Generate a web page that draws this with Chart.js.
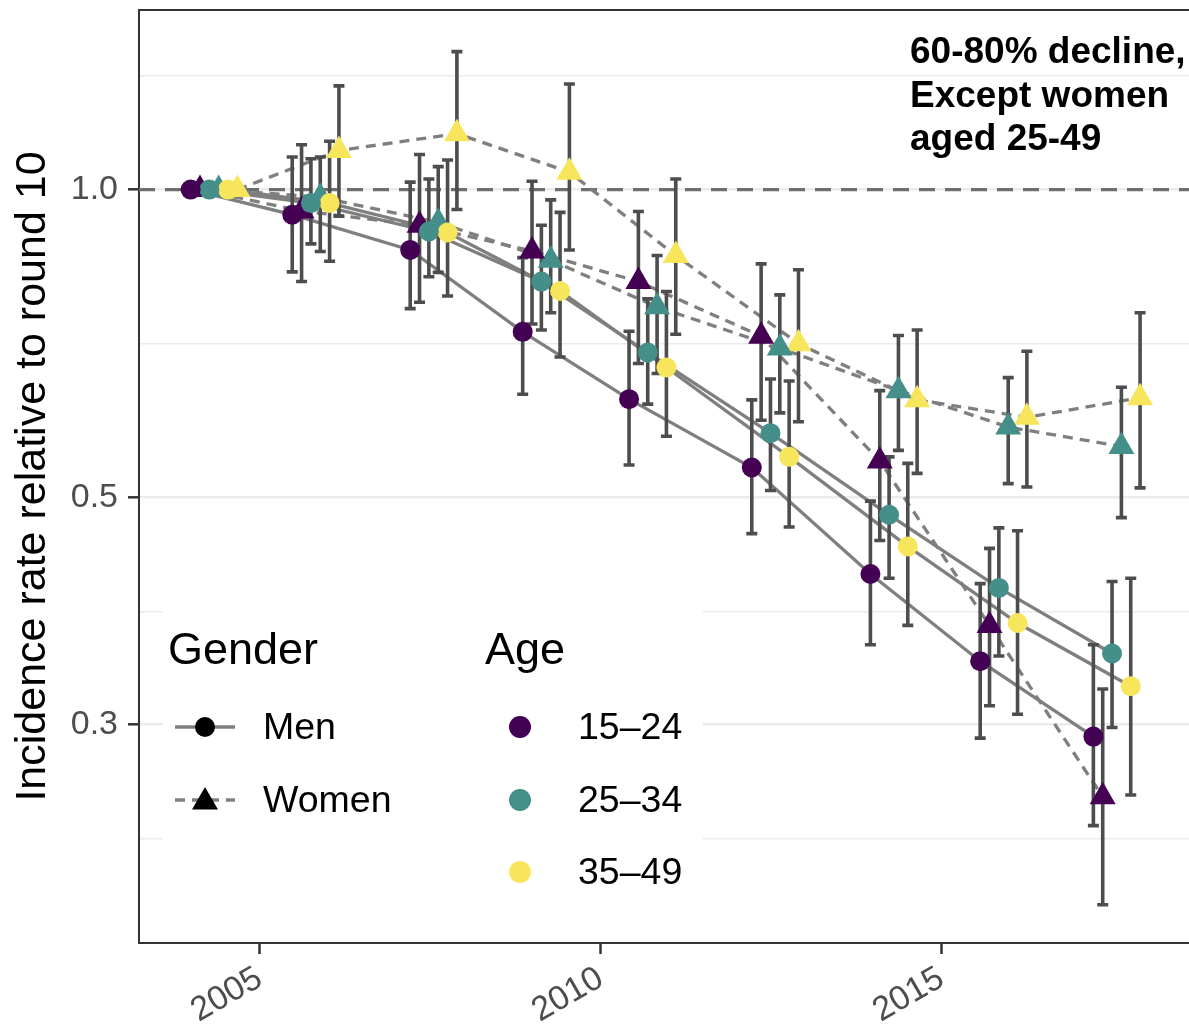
<!DOCTYPE html>
<html>
<head>
<meta charset="utf-8">
<script src="https://cdn.jsdelivr.net/npm/chart.js@4.4.0/dist/chart.umd.min.js"></script>
<style>
  html, body { margin: 0; padding: 0; background: #fff; }
  #wrap { width: 1189px; height: 1031px; }
</style>
</head>
<body>
<div id="wrap"><canvas id="incidenceChart" width="1189" height="1031"></canvas></div>
<script>
// survey rounds 10..18, mid-point of each round in years
const rounds = ['R10', 'R11', 'R12', 'R13', 'R14', 'R15', 'R16', 'R17', 'R18'];
const roundYears = [2004.33, 2005.82, 2007.55, 2009.20, 2010.76, 2012.56, 2014.30, 2015.91, 2017.57];

const ageGroups = ['15–24', '25–34', '35–49'];
const genders = ['Men', 'Women'];

// incidence rate relative to round 10, with 95% CI
const men15 = [1, 0.945, 0.873, 0.726, 0.624, 0.535, 0.421, 0.346, 0.292];
const men15Lo = [null, 0.831, 0.765, 0.631, 0.538, 0.461, 0.359, 0.291, 0.239];
const men15Hi = [null, 1.076, 1.017, 0.858, 0.727, 0.623, 0.496, 0.412, 0.359];

const women15 = [1, 0.953, 0.923, 0.871, 0.813, 0.719, 0.543, 0.375, 0.255];
const women15Lo = [null, 0.813, 0.776, 0.739, 0.676, 0.595, 0.454, 0.313, 0.200];
const women15Hi = [null, 1.106, 1.082, 1.019, 0.952, 0.846, 0.636, 0.446, 0.325];

const men25 = [1, 0.970, 0.910, 0.813, 0.693, 0.578, 0.481, 0.408, 0.352];
const men25Lo = [null, 0.885, 0.822, 0.729, 0.617, 0.508, 0.417, 0.350, 0.298];
const men25Hi = [null, 1.072, 1.024, 0.923, 0.782, 0.653, 0.548, 0.467, 0.414];

const women25 = [1, 0.983, 0.929, 0.853, 0.768, 0.700, 0.636, 0.586, 0.561];
const women25Lo = [null, 0.870, 0.830, 0.758, 0.661, 0.605, 0.556, 0.516, 0.478];
const women25Hi = [null, 1.076, 1.053, 0.977, 0.862, 0.789, 0.720, 0.655, 0.641];

const men35 = [1, 0.970, 0.908, 0.796, 0.670, 0.548, 0.448, 0.377, 0.327];
const men35Lo = [null, 0.851, 0.787, 0.686, 0.574, 0.468, 0.375, 0.307, 0.256];
const men35Hi = [null, 1.115, 1.069, 0.950, 0.795, 0.650, 0.540, 0.464, 0.417];

const women35 = [1, 1.092, 1.134, 1.040, 0.862, 0.707, 0.623, 0.599, 0.626];
const women35Lo = [null, 0.942, 0.956, 0.873, 0.722, 0.593, 0.528, 0.512, 0.511];
const women35Hi = [null, 1.263, 1.364, 1.268, 1.024, 0.835, 0.729, 0.695, 0.758];

const xTicks = [2005, 2010, 2015];
const yTicks = [0.3, 0.5, 1.0];
const yMinorTicks = [0.232, 0.387, 0.707, 1.291];

const noteLines = ['60-80% decline,', 'Except women', 'aged 25-49'];

// ---- styling ----
const FONT = '"Liberation Sans", Arial, Helvetica, sans-serif';
const ageColors = ['#440154', '#458f8b', '#f7e55b'];
const lineGrey = '#7f7f7f';
const barGrey = '#4d4d4d';
const dodgeStep = 0.137;
const womenDash = [10, 7];

// in the same order as position_dodge: M15, W15, M25, W25, M35, W35
const series = [
  { gender: 0, age: 0, y: men15, lo: men15Lo, hi: men15Hi },
  { gender: 1, age: 0, y: women15, lo: women15Lo, hi: women15Hi },
  { gender: 0, age: 1, y: men25, lo: men25Lo, hi: men25Hi },
  { gender: 1, age: 1, y: women25, lo: women25Lo, hi: women25Hi },
  { gender: 0, age: 2, y: men35, lo: men35Lo, hi: men35Hi },
  { gender: 1, age: 2, y: women35, lo: women35Lo, hi: women35Hi },
];

function xOf(i, k) {
  return roundYears[k] + (i - 2.5) * dodgeStep;
}

let datasets = [];
series.forEach((s, i) => {
  let pts = s.y.map((v, k) => ({ x: xOf(i, k), y: v }));
  datasets.push({
    label: genders[s.gender] + ' ' + ageGroups[s.age] + ' line',
    data: pts,
    showLine: true,
    borderColor: lineGrey,
    borderWidth: 3.3,
    borderDash: s.gender === 1 ? womenDash : [],
    pointRadius: 0,
    pointHoverRadius: 0,
    fill: false,
    order: 3,
  });
});
series.forEach((s, i) => {
  let pts = s.y.map((v, k) => ({ x: xOf(i, k), y: v }));
  datasets.push({
    label: genders[s.gender] + ' ' + ageGroups[s.age],
    role: 'points',
    data: pts,
    showLine: false,
    pointStyle: s.gender === 0 ? 'circle' : 'triangle',
    pointRadius: s.gender === 0 ? 10 : 15,
    pointHoverRadius: s.gender === 0 ? 10 : 15,
    backgroundColor: ageColors[s.age],
    borderWidth: 0,
    order: s.gender === 0 ? 0 : 1,
  });
});

// horizontal reference at 1 and the top panel border
const refLine = {
  id: 'refLine',
  beforeDatasetsDraw(chart) {
    chart.$barsDone = false;
    const { ctx, chartArea, scales } = chart;
    const y = scales.y.getPixelForValue(1);
    ctx.save();
    ctx.strokeStyle = '#6e6e6e';
    ctx.lineWidth = 3.2;
    ctx.setLineDash([16, 10]);
    ctx.beginPath();
    ctx.moveTo(chartArea.left, y);
    ctx.lineTo(chartArea.right, y);
    ctx.stroke();
    ctx.restore();
  },
  afterDraw(chart) {
    const { ctx, chartArea } = chart;
    ctx.save();
    ctx.strokeStyle = '#333';
    ctx.lineWidth = 2;
    ctx.beginPath();
    ctx.moveTo(chartArea.left, chartArea.top);
    ctx.lineTo(chartArea.right, chartArea.top);
    ctx.stroke();
    ctx.restore();
  }
};

// error bars, drawn after the lines and before the points
const errorBars = {
  id: 'errorBars',
  beforeDatasetDraw(chart, args) {
    const ds = chart.data.datasets[args.index];
    if (ds.role !== 'points' || chart.$barsDone) return;
    chart.$barsDone = true;
    const { ctx, scales } = chart;
    ctx.save();
    ctx.strokeStyle = barGrey;
    ctx.lineWidth = 3.6;
    ctx.lineCap = 'butt';
    series.forEach((s, i) => {
      s.lo.forEach((lo, k) => {
        if (lo == null) return;
        const x = scales.x.getPixelForValue(xOf(i, k));
        const y1 = scales.y.getPixelForValue(lo);
        const y2 = scales.y.getPixelForValue(s.hi[k]);
        ctx.beginPath();
        ctx.moveTo(x, y1); ctx.lineTo(x, y2);
        ctx.moveTo(x - 5.5, y1); ctx.lineTo(x + 5.5, y1);
        ctx.moveTo(x - 5.5, y2); ctx.lineTo(x + 5.5, y2);
        ctx.stroke();
      });
    });
    ctx.restore();
  }
};

function drawTriangle(ctx, x, y, r) {
  ctx.beginPath();
  for (let j = 0; j < 3; j++) {
    const a = j * 2 * Math.PI / 3;
    const px = x + Math.sin(a) * r, py = y - Math.cos(a) * r;
    if (j === 0) ctx.moveTo(px, py); else ctx.lineTo(px, py);
  }
  ctx.closePath();
  ctx.fill();
}

// ggplot-like legend inside the panel and the annotation
const legendNote = {
  id: 'legendNote',
  afterDraw(chart) {
    const { ctx } = chart;
    ctx.save();
    ctx.fillStyle = '#fff';
    ctx.fillRect(163, 598, 540, 318);

    ctx.fillStyle = '#000';
    ctx.textBaseline = 'alphabetic';
    ctx.textAlign = 'left';
    ctx.font = '45px ' + FONT;
    ctx.fillText('Gender', 168, 664);
    ctx.fillText('Age', 485, 664);

    ctx.font = '37.5px ' + FONT;
    ctx.textBaseline = 'middle';
    const rowsY = [727, 800, 872];
    genders.forEach((g, j) => {
      const y = rowsY[j];
      ctx.strokeStyle = lineGrey;
      ctx.lineWidth = 3.3;
      ctx.setLineDash(j === 1 ? womenDash : []);
      ctx.beginPath();
      ctx.moveTo(175, y); ctx.lineTo(235, y);
      ctx.stroke();
      ctx.setLineDash([]);
      ctx.fillStyle = '#000';
      if (j === 0) {
        ctx.beginPath(); ctx.arc(205, y, 10, 0, 2 * Math.PI); ctx.fill();
      } else {
        drawTriangle(ctx, 205, y + 2, 15);
      }
      ctx.fillText(g, 263, y + 2);
    });
    ageGroups.forEach((a, j) => {
      const y = rowsY[j];
      ctx.fillStyle = ageColors[j];
      ctx.beginPath(); ctx.arc(520, y, 11, 0, 2 * Math.PI); ctx.fill();
      ctx.fillStyle = '#000';
      ctx.fillText(a, 578, y + 2);
    });

    ctx.font = 'bold 37px ' + FONT;
    ctx.textBaseline = 'alphabetic';
    const noteY = [63, 107, 150];
    noteLines.forEach((t, j) => ctx.fillText(t, 910, noteY[j]));
    ctx.restore();
  }
};

const isMinor = v => yMinorTicks.includes(v);
const noPad = s => { s.paddingTop = 0; s.paddingBottom = 0; s.paddingLeft = 0; s.paddingRight = 0; };

new Chart(document.getElementById('incidenceChart').getContext('2d'), {
  type: 'scatter',
  data: { datasets: datasets },
  options: {
    responsive: false,
    animation: false,
    devicePixelRatio: 1,
    layout: { autoPadding: false, padding: { top: 10, left: 0, right: 0, bottom: 0 } },
    plugins: {
      legend: { display: false },
      tooltip: { enabled: false },
    },
    scales: {
      x: {
        type: 'linear',
        min: 2003.23,
        max: 2018.63,
        afterBuildTicks: s => { s.ticks = xTicks.map(v => ({ value: v })); },
        afterFit: s => { s.height = 88; noPad(s); },
        grid: {
          drawOnChartArea: false,
          drawTicks: true,
          tickLength: 11,
          tickWidth: 2.5,
          tickColor: '#333',
        },
        border: { display: true, color: '#333', width: 2 },
        ticks: {
          font: { family: FONT, size: 34, lineHeight: 1.5 },
          color: '#4d4d4d',
          minRotation: 30,
          maxRotation: 30,
          padding: 0,
          callback: v => String(v),
        },
      },
      y: {
        type: 'logarithmic',
        min: 0.1835,
        max: 1.498,
        afterBuildTicks: s => {
          s.ticks = yTicks.concat(yMinorTicks).sort((a, b) => a - b).map(v => ({ value: v }));
        },
        afterFit: s => { s.width = 139; noPad(s); },
        grid: {
          drawOnChartArea: true,
          drawTicks: true,
          tickLength: 11,
          color: '#ebebeb',
          lineWidth: c => (c.tick && isMinor(c.tick.value)) ? 1.6 : 2.6,
          tickColor: c => (c.tick && isMinor(c.tick.value)) ? 'rgba(0,0,0,0)' : '#333',
          tickWidth: 2.5,
        },
        border: { display: true, color: '#333', width: 2 },
        ticks: {
          font: { family: FONT, size: 34 },
          color: '#4d4d4d',
          padding: 10,
          autoSkip: false,
          callback: v => yTicks.includes(v) ? v.toFixed(1) : '',
        },
        title: {
          display: true,
          text: 'Incidence rate relative to round 10',
          color: '#000',
          font: { family: FONT, size: 43 },
          padding: { top: 7, bottom: 0 },
        },
      },
    },
  },
  plugins: [refLine, errorBars, legendNote],
});
</script>
</body>
</html>
